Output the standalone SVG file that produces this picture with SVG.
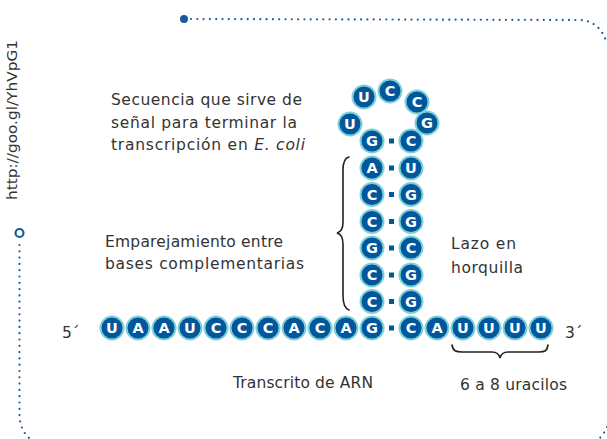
<svg xmlns="http://www.w3.org/2000/svg" width="607" height="439" viewBox="0 0 607 439">
<style>
.n circle{fill:#00579b;stroke:#7dd0da;stroke-width:2}
.n text{fill:#fff;font-family:"DejaVu Sans",sans-serif;font-weight:bold;font-size:14.5px;text-anchor:middle;dominant-baseline:central}
.lbl{fill:#333;font-family:"DejaVu Sans",sans-serif;font-size:15.5px}
.dash{fill:#00579b}
.dot{fill:none;stroke:#1a5a9c;stroke-width:2.2;stroke-linecap:round;stroke-dasharray:0 6.3}
.brace{fill:none;stroke:#222;stroke-width:1.6;stroke-linecap:round}
</style>

<g id="frame">
<circle cx="184" cy="19" r="4" fill="#1a5a9c"/>
<path class="dot" d="M191,19 L580,20 C595,21 603,30 607,44"/>
<circle cx="19.5" cy="233" r="4" fill="none" stroke="#1a5a9c" stroke-width="2.2"/>
<path class="dot" d="M19.5,245 L19.5,415 C20,426 23,432 29,438"/>
<path class="dot" d="M607,427 C605,432 602,436 598,440"/>
<text transform="translate(17,120) rotate(-90)" text-anchor="middle" fill="#333" font-family="DejaVu Sans,sans-serif" font-size="13.5" textLength="160" lengthAdjust="spacingAndGlyphs">http://goo.gl/YhVpG1</text>
</g>

<g id="labels">
<text class="lbl" x="111" y="105" textLength="191">Secuencia que sirve de</text>
<text class="lbl" x="111" y="127.5" textLength="186">señal para terminar la</text>
<text class="lbl" x="111" y="150" textLength="194">transcripción en <tspan font-style="italic">E. coli</tspan></text>
<text class="lbl" x="105" y="247" textLength="178">Emparejamiento entre</text>
<text class="lbl" x="105" y="269" textLength="199">bases complementarias</text>
<text class="lbl" x="451" y="249" textLength="65">Lazo en</text>
<text class="lbl" x="451" y="273" textLength="72">horquilla</text>
<text class="lbl" x="62" y="338">5´</text>
<text class="lbl" x="565" y="338">3´</text>
<text class="lbl" x="233" y="388" textLength="140">Transcrito de ARN</text>
<text class="lbl" x="460" y="390" textLength="107">6 a 8 uracilos</text>
</g>

<g id="connectors">
<path class="brace" d="M349,157 C344,158 343,163 343,170 L343,222 C343,229 341,232 337,233 C341,234 343,237 343,244 L343,296 C343,303 344,308 349,310"/>
<path class="brace" d="M452,345 C453,351 456,352 462,352 L492,352 C497,352 499,354 500,358 C501,354 503,352 508,352 L539,352 C545,352 547,351 548,345"/>
<rect class="dash" x="389" y="138.5" width="5" height="5"/>
<rect class="dash" x="389" y="165.5" width="5" height="5"/>
<rect class="dash" x="389" y="192" width="5" height="5"/>
<rect class="dash" x="389" y="219" width="5" height="5"/>
<rect class="dash" x="389" y="245.5" width="5" height="5"/>
<rect class="dash" x="389" y="272.5" width="5" height="5"/>
<rect class="dash" x="389" y="299" width="5" height="5"/>
<rect class="dash" x="389" y="325.5" width="5" height="5"/>
</g>

<g id="row" class="n">
<g id="b1" transform="translate(112,328)"><circle r="11.5"/><text>U</text></g>
<g id="b2" transform="translate(138,328)"><circle r="11.5"/><text>A</text></g>
<g id="b3" transform="translate(164,328)"><circle r="11.5"/><text>A</text></g>
<g id="b4" transform="translate(190,328)"><circle r="11.5"/><text>U</text></g>
<g id="b5" transform="translate(216,328)"><circle r="11.5"/><text>C</text></g>
<g id="b6" transform="translate(242,328)"><circle r="11.5"/><text>C</text></g>
<g id="b7" transform="translate(268,328)"><circle r="11.5"/><text>C</text></g>
<g id="b8" transform="translate(294,328)"><circle r="11.5"/><text>A</text></g>
<g id="b9" transform="translate(320,328)"><circle r="11.5"/><text>C</text></g>
<g id="b10" transform="translate(346,328)"><circle r="11.5"/><text>A</text></g>
<g id="b11" transform="translate(372,328)"><circle r="11.5"/><text>G</text></g>
<g id="b12" transform="translate(411,328)"><circle r="11.5"/><text>C</text></g>
<g id="b13" transform="translate(437,328)"><circle r="11.5"/><text>A</text></g>
<g id="b14" transform="translate(463,328)"><circle r="11.5"/><text>U</text></g>
<g id="b15" transform="translate(489,328)"><circle r="11.5"/><text>U</text></g>
<g id="b16" transform="translate(515,328)"><circle r="11.5"/><text>U</text></g>
<g id="b17" transform="translate(541,328)"><circle r="11.5"/><text>U</text></g>
</g>

<g id="stem" class="n">
<g id="s1l" transform="translate(372,301.5)"><circle r="11.5"/><text>C</text></g>
<g id="s1r" transform="translate(411,301.5)"><circle r="11.5"/><text>G</text></g>
<g id="s2l" transform="translate(372,275)"><circle r="11.5"/><text>C</text></g>
<g id="s2r" transform="translate(411,275)"><circle r="11.5"/><text>G</text></g>
<g id="s3l" transform="translate(372,248)"><circle r="11.5"/><text>G</text></g>
<g id="s3r" transform="translate(411,248)"><circle r="11.5"/><text>C</text></g>
<g id="s4l" transform="translate(372,221.5)"><circle r="11.5"/><text>C</text></g>
<g id="s4r" transform="translate(411,221.5)"><circle r="11.5"/><text>G</text></g>
<g id="s5l" transform="translate(372,194.5)"><circle r="11.5"/><text>C</text></g>
<g id="s5r" transform="translate(411,194.5)"><circle r="11.5"/><text>G</text></g>
<g id="s6l" transform="translate(372,168)"><circle r="11.5"/><text>A</text></g>
<g id="s6r" transform="translate(411,168)"><circle r="11.5"/><text>U</text></g>
<g id="s7l" transform="translate(372,141)"><circle r="11.5"/><text>G</text></g>
<g id="s7r" transform="translate(411,141)"><circle r="11.5"/><text>C</text></g>
</g>

<g id="loop" class="n">
<g id="l1" transform="translate(350,124)"><circle r="11.5"/><text>U</text></g>
<g id="l2" transform="translate(364,97)"><circle r="11.5"/><text>U</text></g>
<g id="l3" transform="translate(390,91)"><circle r="11.5"/><text>C</text></g>
<g id="l4" transform="translate(417,102)"><circle r="11.5"/><text>C</text></g>
<g id="l5" transform="translate(427,123)"><circle r="11.5"/><text>G</text></g>
</g>
</svg>
